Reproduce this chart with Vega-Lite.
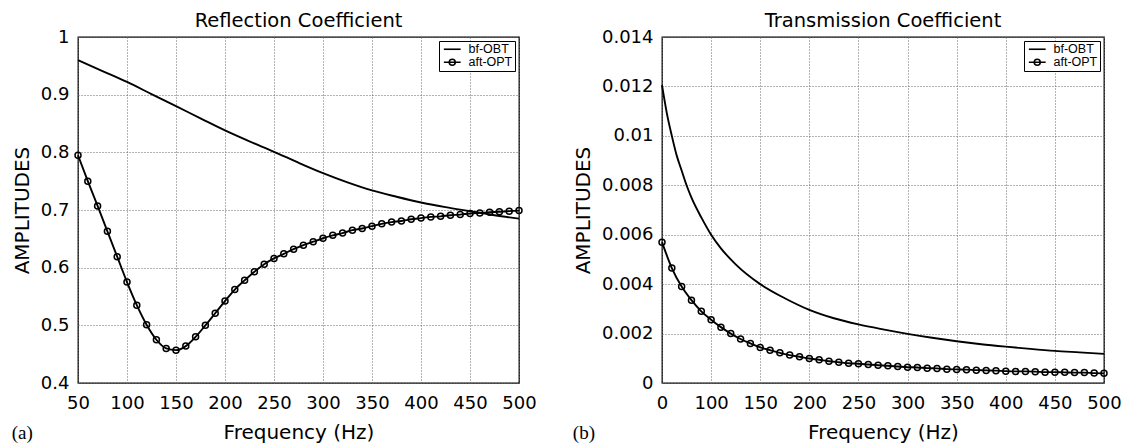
{
  "$schema": "https://vega.github.io/schema/vega-lite/v6.json",
  "padding": {"left": 11, "top": 9, "right": 5, "bottom": 0},
  "spacing": 35,
  "background": "white",
  "config": {
    "view": {"stroke": "black", "strokeWidth": 1.3},
    "axis": {
      "labelFont": "DejaVu Sans", "labelFontSize": 18, "labelColor": "black",
      "titleFont": "DejaVu Sans", "titleFontSize": 20, "titleFontWeight": "normal", "titleColor": "black",
      "domain": false, "ticks": false,
      "gridColor": "#666", "gridDash": [1, 2], "gridWidth": 1, "gridOpacity": 1,
      "labelFlush": false, "labelOverlap": false, "labelBound": false
    },
    "axisX": {"labelPadding": 11, "titlePadding": 10},
    "axisY": {"labelPadding": 9, "titlePadding": 8},
    "title": {"font": "DejaVu Sans", "fontSize": 19.5, "fontWeight": "normal", "color": "black"},
    "legend": {
      "title": null,
      "strokeColor": "black", "fillColor": "white", "padding": 2, "cornerRadius": 0,
      "labelFont": "Liberation Sans", "labelFontSize": 12.5, "labelColor": "black",
      "symbolSize": 64, "symbolStrokeWidth": 1.6, "symbolStrokeColor": "black",
      "symbolFillColor": "transparent", "symbolOpacity": 1, "symbolOffset": 5,
      "labelOffset": 10, "rowPadding": 0
    }
  },
  "resolve": {"scale": {"shape": "independent", "x": "independent", "y": "independent"}, "legend": {"shape": "independent"}},
  "datasets": {
    "refl": [
      {"f": 50, "v": 0.960, "series": "bf-OBT"},
      {"f": 75, "v": 0.941, "series": "bf-OBT"},
      {"f": 100, "v": 0.922, "series": "bf-OBT"},
      {"f": 125, "v": 0.901, "series": "bf-OBT"},
      {"f": 150, "v": 0.880, "series": "bf-OBT"},
      {"f": 175, "v": 0.859, "series": "bf-OBT"},
      {"f": 200, "v": 0.838, "series": "bf-OBT"},
      {"f": 225, "v": 0.819, "series": "bf-OBT"},
      {"f": 250, "v": 0.801, "series": "bf-OBT"},
      {"f": 275, "v": 0.782, "series": "bf-OBT"},
      {"f": 300, "v": 0.764, "series": "bf-OBT"},
      {"f": 325, "v": 0.748, "series": "bf-OBT"},
      {"f": 350, "v": 0.734, "series": "bf-OBT"},
      {"f": 375, "v": 0.723, "series": "bf-OBT"},
      {"f": 400, "v": 0.713, "series": "bf-OBT"},
      {"f": 425, "v": 0.705, "series": "bf-OBT"},
      {"f": 450, "v": 0.698, "series": "bf-OBT"},
      {"f": 475, "v": 0.691, "series": "bf-OBT"},
      {"f": 500, "v": 0.685, "series": "bf-OBT"},
      {"f": 50, "v": 0.795, "series": "aft-OPT"},
      {"f": 60, "v": 0.750, "series": "aft-OPT"},
      {"f": 70, "v": 0.707, "series": "aft-OPT"},
      {"f": 80, "v": 0.663, "series": "aft-OPT"},
      {"f": 90, "v": 0.619, "series": "aft-OPT"},
      {"f": 100, "v": 0.575, "series": "aft-OPT"},
      {"f": 110, "v": 0.535, "series": "aft-OPT"},
      {"f": 120, "v": 0.501, "series": "aft-OPT"},
      {"f": 130, "v": 0.475, "series": "aft-OPT"},
      {"f": 140, "v": 0.460, "series": "aft-OPT"},
      {"f": 150, "v": 0.457, "series": "aft-OPT"},
      {"f": 160, "v": 0.464, "series": "aft-OPT"},
      {"f": 170, "v": 0.480, "series": "aft-OPT"},
      {"f": 180, "v": 0.500, "series": "aft-OPT"},
      {"f": 190, "v": 0.521, "series": "aft-OPT"},
      {"f": 200, "v": 0.542, "series": "aft-OPT"},
      {"f": 210, "v": 0.562, "series": "aft-OPT"},
      {"f": 220, "v": 0.578, "series": "aft-OPT"},
      {"f": 230, "v": 0.593, "series": "aft-OPT"},
      {"f": 240, "v": 0.606, "series": "aft-OPT"},
      {"f": 250, "v": 0.616, "series": "aft-OPT"},
      {"f": 260, "v": 0.624, "series": "aft-OPT"},
      {"f": 270, "v": 0.632, "series": "aft-OPT"},
      {"f": 280, "v": 0.639, "series": "aft-OPT"},
      {"f": 290, "v": 0.645, "series": "aft-OPT"},
      {"f": 300, "v": 0.651, "series": "aft-OPT"},
      {"f": 310, "v": 0.656, "series": "aft-OPT"},
      {"f": 320, "v": 0.660, "series": "aft-OPT"},
      {"f": 330, "v": 0.665, "series": "aft-OPT"},
      {"f": 340, "v": 0.668, "series": "aft-OPT"},
      {"f": 350, "v": 0.672, "series": "aft-OPT"},
      {"f": 360, "v": 0.676, "series": "aft-OPT"},
      {"f": 370, "v": 0.679, "series": "aft-OPT"},
      {"f": 380, "v": 0.681, "series": "aft-OPT"},
      {"f": 390, "v": 0.684, "series": "aft-OPT"},
      {"f": 400, "v": 0.686, "series": "aft-OPT"},
      {"f": 410, "v": 0.688, "series": "aft-OPT"},
      {"f": 420, "v": 0.689, "series": "aft-OPT"},
      {"f": 430, "v": 0.691, "series": "aft-OPT"},
      {"f": 440, "v": 0.692, "series": "aft-OPT"},
      {"f": 450, "v": 0.694, "series": "aft-OPT"},
      {"f": 460, "v": 0.695, "series": "aft-OPT"},
      {"f": 470, "v": 0.696, "series": "aft-OPT"},
      {"f": 480, "v": 0.697, "series": "aft-OPT"},
      {"f": 490, "v": 0.698, "series": "aft-OPT"},
      {"f": 500, "v": 0.699, "series": "aft-OPT"}
    ],
    "trans": [
      {"f": 50, "v": 0.01205, "series": "bf-OBT"},
      {"f": 55, "v": 0.0109, "series": "bf-OBT"},
      {"f": 60, "v": 0.0100, "series": "bf-OBT"},
      {"f": 65, "v": 0.0092, "series": "bf-OBT"},
      {"f": 70, "v": 0.0086, "series": "bf-OBT"},
      {"f": 75, "v": 0.0080, "series": "bf-OBT"},
      {"f": 80, "v": 0.0075, "series": "bf-OBT"},
      {"f": 90, "v": 0.0067, "series": "bf-OBT"},
      {"f": 100, "v": 0.0060, "series": "bf-OBT"},
      {"f": 110, "v": 0.00545, "series": "bf-OBT"},
      {"f": 125, "v": 0.0048, "series": "bf-OBT"},
      {"f": 150, "v": 0.0040, "series": "bf-OBT"},
      {"f": 175, "v": 0.00343, "series": "bf-OBT"},
      {"f": 200, "v": 0.00296, "series": "bf-OBT"},
      {"f": 225, "v": 0.00262, "series": "bf-OBT"},
      {"f": 250, "v": 0.00237, "series": "bf-OBT"},
      {"f": 275, "v": 0.00217, "series": "bf-OBT"},
      {"f": 300, "v": 0.00199, "series": "bf-OBT"},
      {"f": 325, "v": 0.00183, "series": "bf-OBT"},
      {"f": 350, "v": 0.00169, "series": "bf-OBT"},
      {"f": 375, "v": 0.00157, "series": "bf-OBT"},
      {"f": 400, "v": 0.00147, "series": "bf-OBT"},
      {"f": 425, "v": 0.00138, "series": "bf-OBT"},
      {"f": 450, "v": 0.0013, "series": "bf-OBT"},
      {"f": 475, "v": 0.00124, "series": "bf-OBT"},
      {"f": 500, "v": 0.00118, "series": "bf-OBT"},
      {"f": 50, "v": 0.0057, "series": "aft-OPT"},
      {"f": 60, "v": 0.00465, "series": "aft-OPT"},
      {"f": 70, "v": 0.0039, "series": "aft-OPT"},
      {"f": 80, "v": 0.00335, "series": "aft-OPT"},
      {"f": 90, "v": 0.0029, "series": "aft-OPT"},
      {"f": 100, "v": 0.00256, "series": "aft-OPT"},
      {"f": 110, "v": 0.00226, "series": "aft-OPT"},
      {"f": 120, "v": 0.002, "series": "aft-OPT"},
      {"f": 130, "v": 0.00178, "series": "aft-OPT"},
      {"f": 140, "v": 0.0016, "series": "aft-OPT"},
      {"f": 150, "v": 0.00144, "series": "aft-OPT"},
      {"f": 160, "v": 0.00133, "series": "aft-OPT"},
      {"f": 170, "v": 0.00122, "series": "aft-OPT"},
      {"f": 180, "v": 0.00113, "series": "aft-OPT"},
      {"f": 190, "v": 0.00106, "series": "aft-OPT"},
      {"f": 200, "v": 0.00099, "series": "aft-OPT"},
      {"f": 210, "v": 0.00094, "series": "aft-OPT"},
      {"f": 220, "v": 0.00088, "series": "aft-OPT"},
      {"f": 230, "v": 0.00084, "series": "aft-OPT"},
      {"f": 240, "v": 0.0008, "series": "aft-OPT"},
      {"f": 250, "v": 0.00078, "series": "aft-OPT"},
      {"f": 260, "v": 0.00075, "series": "aft-OPT"},
      {"f": 270, "v": 0.00072, "series": "aft-OPT"},
      {"f": 280, "v": 0.0007, "series": "aft-OPT"},
      {"f": 290, "v": 0.00067, "series": "aft-OPT"},
      {"f": 300, "v": 0.00064, "series": "aft-OPT"},
      {"f": 310, "v": 0.00063, "series": "aft-OPT"},
      {"f": 320, "v": 0.0006, "series": "aft-OPT"},
      {"f": 330, "v": 0.00059, "series": "aft-OPT"},
      {"f": 340, "v": 0.00056, "series": "aft-OPT"},
      {"f": 350, "v": 0.00055, "series": "aft-OPT"},
      {"f": 360, "v": 0.00054, "series": "aft-OPT"},
      {"f": 370, "v": 0.00052, "series": "aft-OPT"},
      {"f": 380, "v": 0.00051, "series": "aft-OPT"},
      {"f": 390, "v": 0.0005, "series": "aft-OPT"},
      {"f": 400, "v": 0.00048, "series": "aft-OPT"},
      {"f": 410, "v": 0.00047, "series": "aft-OPT"},
      {"f": 420, "v": 0.00047, "series": "aft-OPT"},
      {"f": 430, "v": 0.00046, "series": "aft-OPT"},
      {"f": 440, "v": 0.00044, "series": "aft-OPT"},
      {"f": 450, "v": 0.00044, "series": "aft-OPT"},
      {"f": 460, "v": 0.00043, "series": "aft-OPT"},
      {"f": 470, "v": 0.00042, "series": "aft-OPT"},
      {"f": 480, "v": 0.00042, "series": "aft-OPT"},
      {"f": 490, "v": 0.0004, "series": "aft-OPT"},
      {"f": 500, "v": 0.00039, "series": "aft-OPT"}
    ]
  },
  "hconcat": [
    {
      "title": {"text": "(a)", "orient": "bottom", "anchor": "start", "frame": "bounds", "font": "Liberation Serif", "fontSize": 19, "offset": -19},
      "resolve": {"scale": {"shape": "independent"}, "legend": {"shape": "independent"}},
      "vconcat": [
        {
          "width": 441, "height": 346,
          "title": {"text": "Reflection Coefficient", "anchor": "middle", "frame": "group", "offset": -3},
          "data": {"name": "refl"},
          "encoding": {
            "x": {"field": "f", "type": "quantitative", "scale": {"domain": [50, 500], "nice": false, "zero": false},
                  "axis": {"title": "Frequency (Hz)", "values": [50, 100, 150, 200, 250, 300, 350, 400, 450, 500]}},
            "y": {"field": "v", "type": "quantitative", "scale": {"domain": [0.4, 1], "nice": false, "zero": false},
                  "axis": {"title": "AMPLITUDES", "values": [0.4, 0.5, 0.6, 0.7, 0.8, 0.9, 1], "format": "~g"}}
          },
          "layer": [
            {"transform": [{"filter": "datum.series == 'bf-OBT'"}],
             "mark": {"type": "line", "color": "black", "strokeWidth": 1.9, "interpolate": "monotone"}},
            {"transform": [{"filter": "datum.series == 'aft-OPT'"}],
             "mark": {"type": "line", "color": "black", "strokeWidth": 1.9, "interpolate": "monotone"}},
            {"transform": [{"filter": "datum.series == 'aft-OPT'"}],
             "mark": {"type": "point", "shape": "circle", "filled": false, "color": "black", "size": 36, "strokeWidth": 1.5, "opacity": 1}},
            {"mark": {"type": "point", "filled": false, "color": "black", "opacity": 0},
             "encoding": {"shape": {"field": "series", "type": "nominal",
               "scale": {"domain": ["bf-OBT", "aft-OPT"], "range": ["M-2.1,0L2.1,0", "M-2.1,0L2.1,0M0.75,0A0.75,0.75,0,1,1,-0.75,0A0.75,0.75,0,1,1,0.75,0"]},
               "legend": {"orient": "top-right", "offset": 4, "symbolOpacity": 1}}}}
          ]
        }
      ]
    },
    {
      "title": {"text": "(b)", "orient": "bottom", "anchor": "start", "frame": "bounds", "font": "Liberation Serif", "fontSize": 19, "offset": -19},
      "resolve": {"scale": {"shape": "independent"}, "legend": {"shape": "independent"}},
      "vconcat": [
        {
          "width": 442, "height": 346,
          "title": {"text": "Transmission Coefficient", "anchor": "middle", "frame": "group", "offset": -3},
          "data": {"name": "trans"},
          "encoding": {
            "x": {"field": "f", "type": "quantitative", "scale": {"domain": [50, 500], "nice": false, "zero": false},
                  "axis": {"title": "Frequency (Hz)", "values": [50, 100, 150, 200, 250, 300, 350, 400, 450, 500], "labelExpr": "datum.value == 50 ? '0' : datum.label"}},
            "y": {"field": "v", "type": "quantitative", "scale": {"domain": [0, 0.014], "nice": false, "zero": false},
                  "axis": {"title": "AMPLITUDES", "values": [0, 0.002, 0.004, 0.006, 0.008, 0.01, 0.012, 0.014], "format": "~g"}}
          },
          "layer": [
            {"transform": [{"filter": "datum.series == 'bf-OBT'"}],
             "mark": {"type": "line", "color": "black", "strokeWidth": 1.9, "interpolate": "monotone"}},
            {"transform": [{"filter": "datum.series == 'aft-OPT'"}],
             "mark": {"type": "line", "color": "black", "strokeWidth": 1.9, "interpolate": "monotone"}},
            {"transform": [{"filter": "datum.series == 'aft-OPT'"}],
             "mark": {"type": "point", "shape": "circle", "filled": false, "color": "black", "size": 36, "strokeWidth": 1.5, "opacity": 1}},
            {"mark": {"type": "point", "filled": false, "color": "black", "opacity": 0},
             "encoding": {"shape": {"field": "series", "type": "nominal",
               "scale": {"domain": ["bf-OBT", "aft-OPT"], "range": ["M-2.1,0L2.1,0", "M-2.1,0L2.1,0M0.75,0A0.75,0.75,0,1,1,-0.75,0A0.75,0.75,0,1,1,0.75,0"]},
               "legend": {"orient": "top-right", "offset": 4, "symbolOpacity": 1}}}}
          ]
        }
      ]
    }
  ]
}
